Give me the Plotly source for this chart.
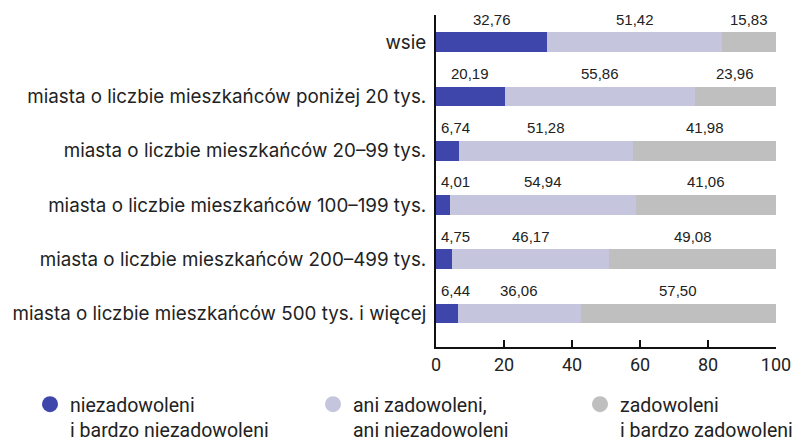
import plotly.graph_objects as go

categories = [
    "wsie",
    "miasta o liczbie mieszkańców poniżej 20 tys.",
    "miasta o liczbie mieszkańców 20–99 tys.",
    "miasta o liczbie mieszkańców 100–199 tys.",
    "miasta o liczbie mieszkańców 200–499 tys.",
    "miasta o liczbie mieszkańców 500 tys. i więcej",
]
niezadowoleni = [32.76, 20.19, 6.74, 4.01, 4.75, 6.44]
ani = [51.42, 55.86, 51.28, 54.94, 46.17, 36.06]
zadowoleni = [15.83, 23.96, 41.98, 41.06, 49.08, 57.50]

series_names = ["niezadowoleni<br>i bardzo niezadowoleni",
                "ani zadowoleni,<br>ani niezadowoleni",
                "zadowoleni<br>i bardzo zadowoleni"]
colors = ["#3E46AC", "#C5C5DD", "#BFBFBF"]
tick_vals = [0, 20, 40, 60, 80, 100]

FONT = "Liberation Sans"
CAT_FONT = "Inter"
fig = go.Figure()
series = [niezadowoleni, ani, zadowoleni]
for vals, col in zip(series, colors):
    fig.add_trace(go.Bar(y=categories, x=vals, orientation="h", marker_color=col,
                         marker_line_width=0, width=0.364, showlegend=False,
                         hoverinfo="skip"))

# value labels above segments
px_per_unit = 340 / 100.0
for i, cat in enumerate(categories):
    start = 0.0
    for vals in series:
        v = vals[i]
        txt = f"{v:.2f}".replace(".", ",")
        half = len(txt) * 7.3 / 2
        c = start + v / 2
        lo = (5 + half) / px_per_unit
        hi = 100 - (half) / px_per_unit
        c = min(max(c, lo), hi)
        fig.add_annotation(x=c, y=cat, text=txt, showarrow=False, yshift=23,
                           xanchor="center", yanchor="middle",
                           font=dict(family=FONT, size=15, color="#222"))
        start += v

# legends with circular markers
legend_x = [30 / 802, 313 / 802, 580 / 802]
for k, (name, col) in enumerate(zip(series_names, colors)):
    lg = "legend" if k == 0 else f"legend{k+1}"
    fig.add_trace(go.Scatter(x=[None], y=[None], mode="markers", name=name,
                             marker=dict(color=col, size=17, symbol="circle"),
                             legend=lg, showlegend=True))

legend_common = dict(orientation="h", yanchor="top", y=(440 - 385) / 440,
                     xanchor="left", xref="container", yref="container",
                     valign="top", font=dict(family="Roboto", size=19.5, color="#222"),
                     bgcolor="rgba(0,0,0,0)", tracegroupgap=0)
layout_legends = {}
for k in range(3):
    key = "legend" if k == 0 else f"legend{k+1}"
    layout_legends[key] = dict(legend_common, x=legend_x[k])

fig.update_layout(
    width=802, height=440,
    margin=dict(l=436, r=26, t=15, b=93, autoexpand=False),
    plot_bgcolor="white", paper_bgcolor="white",
    barmode="stack", bargap=0,
    font=dict(family=FONT, size=17, color="#222"),
    xaxis=dict(range=[0, 100], tickvals=tick_vals, ticks="inside", ticklen=7,
               tickwidth=2, tickcolor="#111", showline=True, linecolor="#111",
               linewidth=2, showgrid=False, zeroline=False,
               tickfont=dict(family="Roboto", size=18, color="#222")),
    yaxis=dict(autorange="reversed", showline=True, linecolor="#111", linewidth=2,
               showgrid=False, ticks="", ticklabelstandoff=4,
               tickfont=dict(family=CAT_FONT, size=18.8, color="#222")),
    **layout_legends,
)

fig.write_html("out.html", config={"displayModeBar": False},
               post_script="document.body.style.margin='0';document.body.style.padding='0';")
